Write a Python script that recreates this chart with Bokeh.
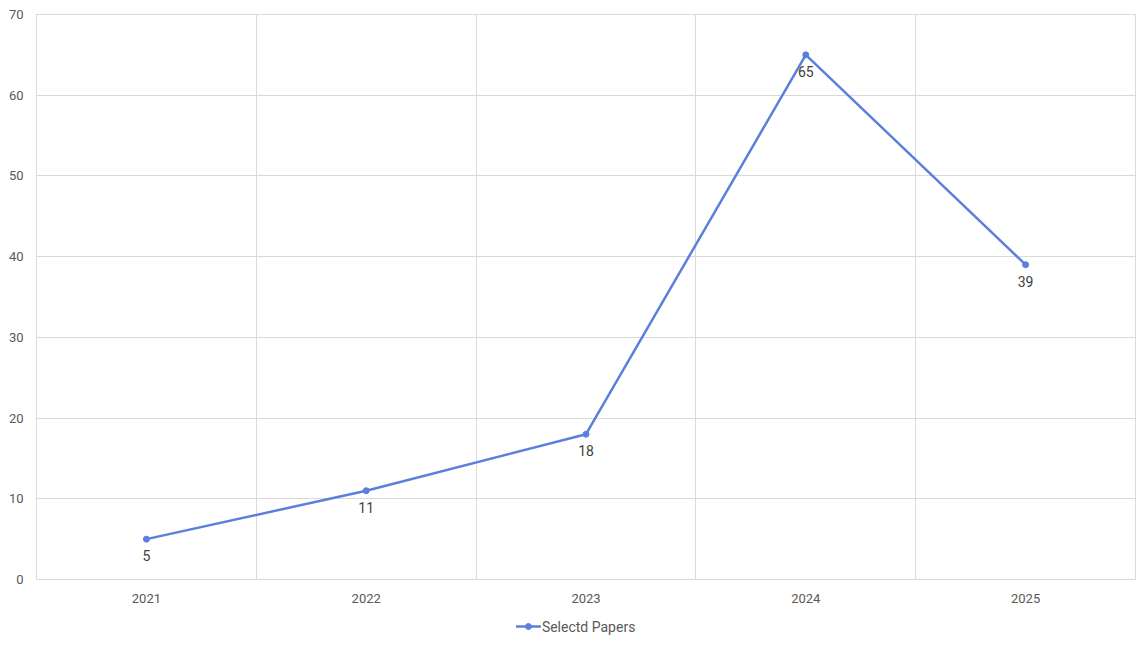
from bokeh.plotting import figure
from bokeh.layouts import column
from bokeh.models import FixedTicker, Range1d, ColumnDataSource, LabelSet
from bokeh.core.properties import value
from bokeh.embed import file_html
from bokeh.resources import INLINE

years = ["2021", "2022", "2023", "2024", "2025"]
papers = [5, 11, 18, 65, 39]
series_name = "Selectd Papers"

xs = [i + 0.5 for i in range(len(years))]
src = ColumnDataSource(dict(x=xs, y=papers, lab=[str(v) for v in papers]))

FONT = "Roboto"
LINE = "#5B80DC"
W = 1146

p = figure(width=W, height=610, output_backend="svg", toolbar_location=None,
           x_range=Range1d(0, len(years)), y_range=Range1d(0, 70),
           min_border_left=36, min_border_right=W - 1135, min_border_top=14, min_border_bottom=31)
p.outline_line_color = "#D9D9D9"
p.outline_line_width = 1
p.background_fill_color = "white"
p.border_fill_color = "white"

p.xgrid.ticker = FixedTicker(ticks=list(range(1, len(years))))
p.ygrid.ticker = FixedTicker(ticks=list(range(0, 71, 10)))
p.xgrid.grid_line_color = "#D9D9D9"
p.ygrid.grid_line_color = "#D9D9D9"

p.xaxis.ticker = FixedTicker(ticks=xs)
p.xaxis.major_label_overrides = {x: y for x, y in zip(xs, years)}
p.yaxis.ticker = FixedTicker(ticks=list(range(0, 71, 10)))
for ax in (p.xaxis, p.yaxis):
    ax.axis_line_color = None
    ax.major_tick_line_color = None
    ax.minor_tick_line_color = None
    ax.major_label_text_color = "#595959"
    ax.major_label_text_font = FONT
    ax.major_label_text_font_size = "13px"
p.yaxis.major_label_standoff = 7
p.xaxis.major_label_standoff = 8

r_line = p.line("x", "y", source=src, line_color=LINE, line_width=2.5)
r_pts = p.scatter("x", "y", source=src, size=6, fill_color=LINE, line_color=LINE)

labels = LabelSet(x="x", y="y", text="lab", source=src, y_offset=-11,
                  text_align="center", text_baseline="top", text_color="#404040",
                  text_font=value(FONT), text_font_size=value("14px"))
p.add_layout(labels)

# legend strip below the chart
lg = figure(width=W, height=30, output_backend="svg", toolbar_location=None,
            x_range=Range1d(0, W), y_range=Range1d(0, 30),
            min_border=0, outline_line_color=None)
lg.axis.visible = False
lg.grid.visible = False
lg.line([500, 526], [14, 14], line_color=LINE, line_width=2.5)
lg.scatter([513], [14], size=6, fill_color=LINE, line_color=LINE)
lg.text([527], [14], text=[series_name], text_baseline="middle", text_align="left",
        text_color="#595959", text_font=value(FONT), text_font_size="14px")

layout = column(p, lg, spacing=0)
open("out.html", "w").write(file_html(layout, INLINE))
